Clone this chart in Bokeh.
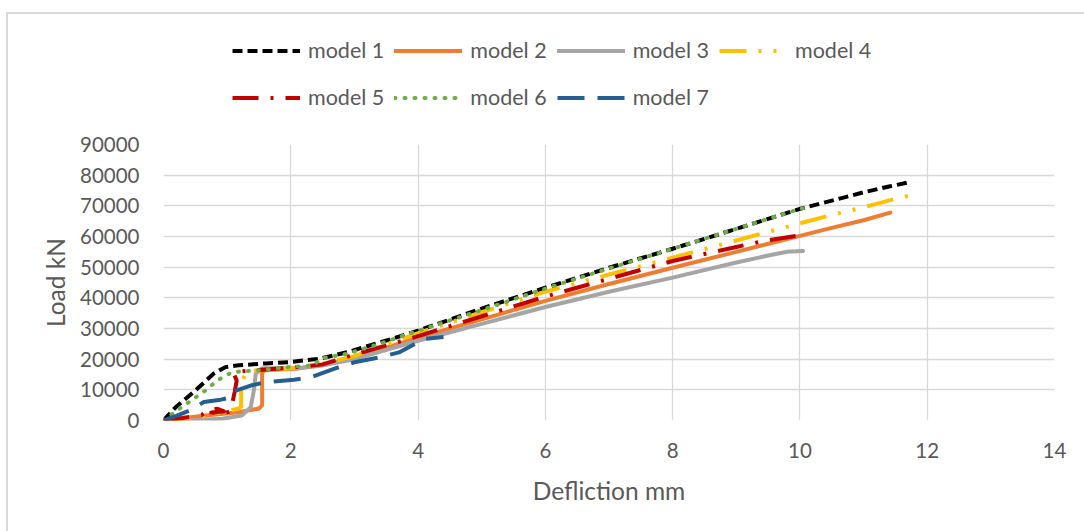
from bokeh.plotting import figure
from bokeh.models import Range1d, FixedTicker, Legend, LegendItem
from bokeh.layouts import column
from bokeh.embed import file_html
from bokeh.resources import INLINE

# ---- data ----
model1_x = [0, 0.19, 0.5, 0.79, 0.97, 1.18, 1.6, 1.96, 2.47, 2.89, 3.41, 4, 5, 6, 7, 8, 9, 10, 10.5, 11, 11.4, 11.7]
model1_y = [0, 4300, 9800, 15300, 17400, 18000, 18600, 19000, 20200, 22300, 25500, 29300, 36500, 43300, 49800, 56000, 62500, 69000, 71700, 74400, 76300, 77600]

model2_x = [0, 0.66, 1.18, 1.5, 1.55, 1.55, 1.6, 2.07, 2.5, 3, 4, 5, 6, 7, 8, 9, 10, 10.5, 11, 11.42]
model2_y = [0, 1600, 2700, 3900, 5000, 15800, 16400, 16900, 18000, 20500, 27000, 33000, 39000, 44500, 49800, 55000, 60200, 62800, 65300, 67800]

model3_x = [0, 0.5, 0.92, 1.23, 1.37, 1.42, 1.45, 1.55, 2.07, 2.5, 3, 4, 5, 6, 7, 8, 9, 9.5, 9.8, 10.05]
model3_y = [0, 200, 600, 1600, 4300, 9800, 15300, 17000, 17000, 18000, 20000, 26000, 31500, 37000, 42000, 46600, 51500, 53800, 55000, 55300]

model4_x = [0, 0.5, 0.92, 1.18, 1.22, 1.22, 1.31, 1.45, 2.0, 2.5, 3, 4, 5, 6, 7, 8, 9, 10, 10.5, 11, 11.5, 11.8]
model4_y = [0, 700, 2700, 3900, 4500, 12500, 15800, 16300, 17000, 18500, 21000, 28500, 35300, 42000, 47600, 53100, 58700, 64300, 67000, 69500, 72300, 73700]

model5_x = [0, 0.3, 0.6, 0.7, 0.85, 0.95, 0.75, 0.95, 1.05, 1.08, 1.12, 1.15, 1.1, 1.2, 1.5, 2.0, 2.5, 3, 4, 5, 6, 7, 8, 9, 9.5, 10.05]
model5_y = [0, 800, 1800, 3300, 3800, 3000, 2600, 2300, 3000, 5500, 9500, 13000, 15500, 16000, 16500, 17200, 18300, 21500, 27500, 34000, 40400, 46200, 52000, 56600, 58800, 60500]

model6_x = [0, 0.21, 0.4, 0.66, 0.84, 1.08, 1.45, 1.96, 2.36, 2.47, 2.89, 3.41, 3.93, 5, 6, 7, 8, 9, 10, 10.15]
model6_y = [0, 3300, 6000, 9800, 13000, 15800, 16300, 17400, 18000, 20200, 21800, 25100, 28800, 36000, 43000, 49600, 56000, 62500, 69000, 69600]

model7_x = [0, 0.2, 0.42, 0.63, 0.9, 1.05, 1.1, 1.37, 1.6, 2.05, 2.3, 2.7, 3.0, 3.4, 3.7, 3.95, 4.05, 4.4]
model7_y = [0, 1500, 3300, 6000, 6800, 7500, 9500, 11400, 12500, 13300, 14000, 17000, 19000, 20600, 22200, 25000, 26500, 27200]

series_names = ["model 1", "model 2", "model 3", "model 4", "model 5", "model 6", "model 7"]
x_ticks = [0, 2, 4, 6, 8, 10, 12, 14]
y_ticks = [0, 10000, 20000, 30000, 40000, 50000, 60000, 70000, 80000, 90000]
x_title = "Defliction mm"
y_title = "Load kN"

# ---- styles ----
FONT = "Lato"
TXT = "#595959"
GRID = "#D9D9D9"
LW = 4
styles = [
    dict(line_color="#000000", line_dash="10 5", line_cap="butt"),
    dict(line_color="#ED7D31", line_dash="solid", line_cap="round"),
    dict(line_color="#A5A5A5", line_dash="solid", line_cap="round"),
    dict(line_color="#FFC000", line_dash="27 12 3 12 3 12", line_cap="butt"),
    dict(line_color="#C00000", line_dash="26 12 3 12", line_cap="butt"),
    dict(line_color="#70AD47", line_dash="1 9", line_cap="round"),
    dict(line_color="#255E91", line_dash="27 13", line_cap="butt"),
]
xs = [model1_x, model2_x, model3_x, model4_x, model5_x, model6_x, model7_x]
ys = [model1_y, model2_y, model3_y, model4_y, model5_y, model6_y, model7_y]

# ---- legend strip (top) ----
LEG_H = 116
lf = figure(width=1076, height=LEG_H, output_backend="svg", toolbar_location=None,
            x_range=Range1d(0, 1), y_range=Range1d(0, 1), frame_align=False,
            min_border_left=0, min_border_right=0, min_border_top=0, min_border_bottom=0)
lf.axis.visible = False
lf.grid.visible = False
lf.outline_line_color = None
# legend-only renderers, placed outside the visible range
leg_renderers = [lf.line([-10, -9], [-10, -9], line_width=LW, **st) for st in styles]
order = [0, 4, 1, 5, 2, 6, 3]  # row-major order in a column-major grid
items = [LegendItem(label=series_names[i], renderers=[leg_renderers[i]]) for i in order]
GH = 37
legend = Legend(items=items, ncols=4, location=(224, LEG_H - 17.5 - (2 * GH + 10)),
                glyph_width=68, glyph_height=GH, label_height=GH,
                label_standoff=8, spacing=10, padding=0, margin=0,
                label_text_font=FONT, label_text_font_size="21.5px", label_text_color=TXT,
                background_fill_alpha=0, border_line_color=None)
lf.add_layout(legend, "center")

# ---- main chart ----
p = figure(width=1076, height=531 - 14 - LEG_H, output_backend="svg", toolbar_location=None,
           x_range=Range1d(0, 14), y_range=Range1d(0, 90000), frame_align=False,
           min_border_left=155, min_border_right=30, min_border_top=14, min_border_bottom=111)
p.outline_line_color = None

for x, y, st in zip(xs, ys, styles):
    p.line(x, y, line_width=LW, line_join="round", **st)

p.xaxis.ticker = FixedTicker(ticks=x_ticks)
p.yaxis.ticker = FixedTicker(ticks=y_ticks)
p.yaxis.major_label_overrides = {t: str(t) for t in y_ticks}
for ax in (p.xaxis[0], p.yaxis[0]):
    ax.axis_line_color = None
    ax.major_tick_line_color = None
    ax.minor_tick_line_color = None
    ax.major_label_text_font = FONT
    ax.major_label_text_font_size = "20.5px"
    ax.major_label_text_color = TXT
    ax.axis_label_text_font = FONT
    ax.axis_label_text_font_size = "24.5px"
    ax.axis_label_text_font_style = "normal"
    ax.axis_label_text_color = TXT
p.xaxis.axis_label = x_title
p.yaxis.axis_label = y_title
p.xaxis.major_label_standoff = 16
p.yaxis.major_label_standoff = 18
p.xaxis.axis_label_standoff = 15
p.yaxis.axis_label_standoff = 7

p.xgrid.grid_line_color = GRID
p.ygrid.grid_line_color = GRID
p.xgrid.grid_line_width = 1.3
p.ygrid.grid_line_width = 1.3

layout = column(lf, p, spacing=0, margin=(12, 0, 0, 6),
                styles={"border-left": "2px solid #D9D9D9", "border-top": "2px solid #D9D9D9"})

open("out.html", "w").write(file_html(layout, INLINE))
